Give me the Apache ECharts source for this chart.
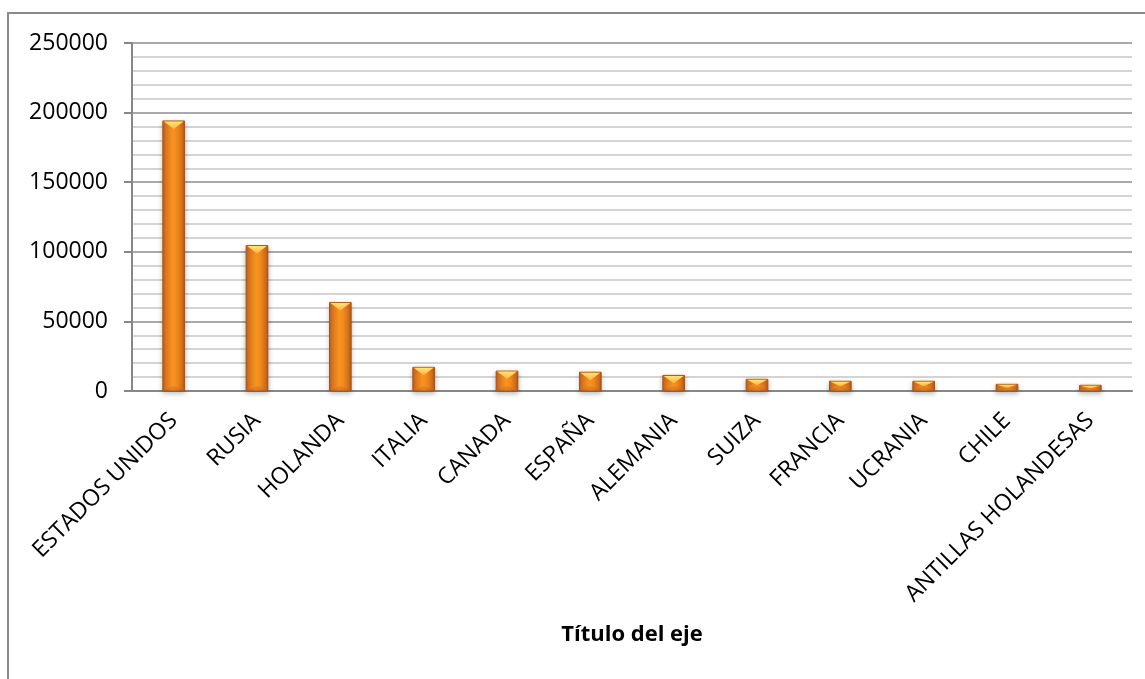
<!DOCTYPE html>
<html>
<head>
<meta charset="utf-8">
<script src="https://cdn.jsdelivr.net/npm/echarts@6/dist/echarts.min.js"></script>
<style>
  html, body { margin: 0; padding: 0; background: #fff; }
  #chart { width: 1145px; height: 679px; }
</style>
</head>
<body>
<div id="chart"></div>
<script>
// Countries (destination markets) and their values
const countries = ['ESTADOS UNIDOS', 'RUSIA', 'HOLANDA', 'ITALIA', 'CANADA', 'ESPAÑA',
                   'ALEMANIA', 'SUIZA', 'FRANCIA', 'UCRANIA', 'CHILE', 'ANTILLAS HOLANDESAS'];
const values = [194000, 104500, 63500, 17000, 14300, 13500, 11200, 8400, 7000, 7000, 4800, 4100];
const yTicks = [0, 50000, 100000, 150000, 200000, 250000];
const axisTitle = 'Título del eje';

const FONT = '"Open Sans", "Liberation Sans", sans-serif';

// Bevelled orange column: body with side shading, light top facet, faint bottom facet
function renderBevelBar(params, api) {
  const idx = api.value(0);
  const v = api.value(1);
  const base = api.coord([idx, 0]);
  const top = api.coord([idx, v]);
  const bw = api.size([1, 0])[0] * 0.26;
  const xc = base[0];
  const x0 = xc - bw / 2, x1 = xc + bw / 2;
  const y0 = top[1], y1 = base[1];
  const h = y1 - y0;
  const d = Math.min(8, h / 2);
  const db = Math.min(5, h / 2);
  return {
    type: 'group',
    children: [
      {
        type: 'rect',
        shape: { x: x0, y: y0, width: bw, height: h },
        style: {
          fill: new echarts.graphic.LinearGradient(0, 0, 1, 0, [
            { offset: 0, color: '#b85d17' },
            { offset: 0.12, color: '#d9731f' },
            { offset: 0.45, color: '#f7931f' },
            { offset: 0.6, color: '#f48c1d' },
            { offset: 0.88, color: '#d56f1c' },
            { offset: 1, color: '#a95414' }
          ]),
          stroke: '#a9561a',
          lineWidth: 1,
          shadowBlur: 5,
          shadowOffsetY: 2,
          shadowColor: 'rgba(0,0,0,0.28)'
        }
      },
      {
        type: 'polygon',
        shape: { points: [[x0 + 1, y0 + 0.5], [x1 - 1, y0 + 0.5], [xc, y0 + d]] },
        style: {
          fill: new echarts.graphic.LinearGradient(0, 0, 0, 1, [
            { offset: 0, color: '#ffe47c' },
            { offset: 1, color: '#f9b73c' }
          ])
        }
      },
      {
        type: 'polygon',
        shape: { points: [[x0 + 1, y1 - 0.5], [x1 - 1, y1 - 0.5], [xc, y1 - db]] },
        style: { fill: 'rgba(170,85,20,0.22)' }
      }
    ]
  };
}

const chart = echarts.init(document.getElementById('chart'), null, { renderer: 'canvas' });

chart.setOption({
  backgroundColor: '#ffffff',
  animation: false,
  graphic: [
    {
      type: 'rect',
      shape: { x: 8, y: 13, width: 1160, height: 700 },
      style: { fill: 'none', stroke: '#8a8a8a', lineWidth: 2 },
      silent: true
    }
  ],
  grid: { left: 132, right: 13, top: 43, bottom: 288 },
  xAxis: {
    type: 'category',
    data: countries,
    name: axisTitle,
    nameLocation: 'middle',
    nameMoveOverlap: false,
    nameGap: 233,
    nameTextStyle: {
      fontFamily: FONT, fontSize: 22, fontWeight: 'bold', color: '#000',
      verticalAlign: 'top'
    },
    axisLine: { show: true, onZero: true, lineStyle: { color: '#878787', width: 2 } },
    axisTick: { show: false },
    axisLabel: {
      interval: 0,
      rotate: 45,
      margin: 26,
      fontFamily: FONT,
      fontSize: 23,
      color: '#000'
    },
    splitLine: { show: false }
  },
  yAxis: {
    type: 'value',
    min: yTicks[0],
    max: yTicks[yTicks.length - 1],
    interval: yTicks[1] - yTicks[0],
    axisLine: { show: true, lineStyle: { color: '#878787', width: 2 } },
    axisTick: { show: true, inside: false, length: 8, lineStyle: { color: '#878787', width: 2 } },
    axisLabel: {
      margin: 24,
      fontFamily: FONT,
      fontSize: 23,
      color: '#000',
      formatter: (val) => String(val)
    },
    splitLine: { show: true, lineStyle: { color: '#8c8c8c', width: 1.6 } },
    minorTick: { show: false, splitNumber: 5 },
    minorSplitLine: { show: true, lineStyle: { color: '#c6c6c6', width: 1.6 } }
  },
  series: [
    {
      type: 'custom',
      renderItem: renderBevelBar,
      encode: { x: 0, y: 1 },
      data: values.map((v, i) => [i, v]),
      z: 5
    }
  ]
});
</script>
</body>
</html>
